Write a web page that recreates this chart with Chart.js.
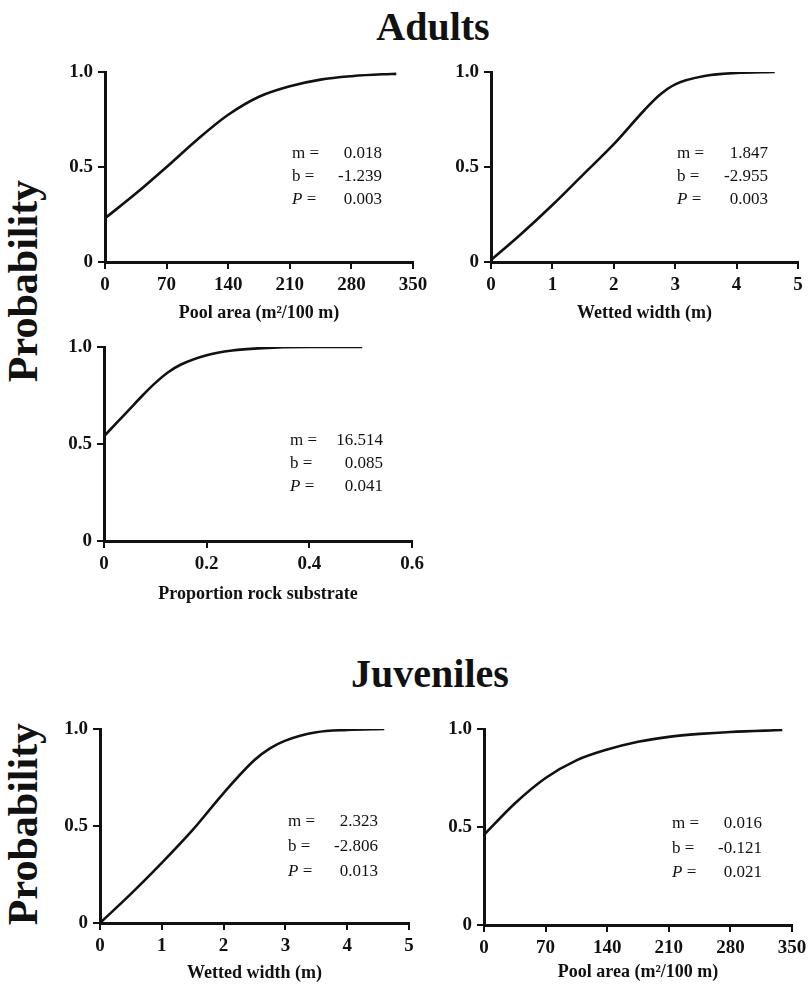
<!DOCTYPE html>
<html>
<head>
<meta charset="utf-8">
<script src="https://cdn.jsdelivr.net/npm/chart.js@4.4.1/dist/chart.umd.min.js"></script>
<style>
  html, body { margin: 0; padding: 0; background: #fff; }
  body { width: 811px; height: 984px; position: relative; overflow: hidden; font-family: 'Liberation Serif', serif; color: #111; }
  .box { position: absolute; }
  .head { position: absolute; font-weight: bold; font-size: 40px; line-height: 40px; width: 300px; text-align: center; }
  .ylab { position: absolute; font-weight: bold; font-size: 42px; line-height: 42px; width: 260px; text-align: center; transform: rotate(-90deg); }
  .stats { position: absolute; font-size: 17px; display: grid; grid-template-columns: auto 1fr; }
  .stats span:nth-child(2n) { text-align: right; }
</style>
</head>
<body>

<div class="head" style="left:283px; top:7px;">Adults</div>
<div class="head" style="left:280px; top:654px;">Juveniles</div>
<div class="ylab" style="left:-107px; top:260px;">Probability</div>
<div class="ylab" style="left:-107px; top:803px;">Probability</div>

<script>
// 1. DATA
const probTicks = [0, 0.5, 1];
const probTickLabels = ['0', '0.5', '1.0'];
const poolTicks = [0, 70, 140, 210, 280, 350];
const widthTicks = [0, 1, 2, 3, 4, 5];
const rockTicks = [0, 0.2, 0.4, 0.6];
const rockTickLabels = ['0', '0.2', '0.4', '0.6'];

// adults
const adultPoolX = [0, 35, 70, 105, 140, 175, 210, 245, 280, 315, 331];
const adultPoolP = [0.23, 0.36, 0.50, 0.645, 0.775, 0.87, 0.925, 0.96, 0.978, 0.988, 0.99];
const adultWidthX = [0, 0.5, 1, 1.5, 2, 2.5, 2.75, 3, 3.5, 4, 4.62];
const adultWidthP = [0.01, 0.15, 0.30, 0.46, 0.62, 0.80, 0.88, 0.935, 0.98, 0.995, 1.0];
const adultRockX = [0, 0.025, 0.05, 0.075, 0.1, 0.125, 0.15, 0.2, 0.25, 0.3, 0.4, 0.503];
const adultRockP = [0.54, 0.61, 0.68, 0.75, 0.815, 0.87, 0.91, 0.958, 0.982, 0.993, 1.0, 1.0];

// juveniles
const juvWidthX = [0, 0.5, 1, 1.5, 2, 2.5, 2.75, 3, 3.5, 4, 4.6];
const juvWidthP = [0.0, 0.15, 0.31, 0.48, 0.67, 0.84, 0.90, 0.94, 0.983, 0.995, 1.0];
const juvPoolX = [0, 35, 70, 105, 140, 175, 210, 245, 280, 339];
const juvPoolP = [0.46, 0.62, 0.75, 0.84, 0.895, 0.935, 0.96, 0.975, 0.985, 0.995];

// fit statistics printed in each panel
const statLabels = ['m =', 'b =', '<i>P</i> ='];
const adultPoolStats = ['0.018', '-1.239', '0.003'];
const adultWidthStats = ['1.847', '-2.955', '0.003'];
const adultRockStats = ['16.514', '0.085', '0.041'];
const juvWidthStats = ['2.323', '-2.806', '0.013'];
const juvPoolStats = ['0.016', '-0.121', '0.021'];

// 2. PANELS
const YW = 60, XH = 70, PADT = 15, PADR = 25;
const tickFont = { family: 'Liberation Serif', size: 19, weight: 'bold' };

function makePanel(p) {
    const c = document.createElement('canvas');
    const w = p.R - p.L + YW + PADR, h = p.B - p.T + PADT + XH;
    const box = document.createElement('div');
    box.className = 'box';
    box.style.cssText = `left:${p.L - YW}px; top:${p.T - PADT}px; width:${w}px; height:${h}px;`;
    box.appendChild(c);
    document.body.appendChild(box);

    new Chart(c.getContext('2d'), {
        type: 'line',
        data: {
            datasets: [{
                data: p.xs.map((x, i) => ({ x: x, y: p.ys[i] })),
                borderColor: '#111',
                borderWidth: 2.6,
                pointRadius: 0,
                fill: false,
                cubicInterpolationMode: 'monotone'
            }]
        },
        options: {
            responsive: true,
            maintainAspectRatio: false,
            animation: false,
            events: [],
            layout: { padding: { top: PADT, right: PADR, left: 0, bottom: 0 } },
            plugins: { legend: { display: false }, tooltip: { enabled: false } },
            scales: {
                x: {
                    type: 'linear',
                    min: p.xTicks[0],
                    max: p.xTicks[p.xTicks.length - 1],
                    afterBuildTicks: s => { s.ticks = p.xTicks.map(v => ({ value: v })); },
                    afterFit: s => { s.height = XH; s.paddingLeft = 0; s.paddingRight = 0; },
                    border: { display: true, color: '#111', width: 3 },
                    grid: { drawOnChartArea: false, drawTicks: true, tickLength: 7, color: '#111', lineWidth: 2 },
                    ticks: {
                        color: '#111', font: tickFont, padding: 5, maxRotation: 0, autoSkip: false,
                        callback: (v, i) => p.xLabels[i]
                    },
                    title: {
                        display: true, text: p.xTitle, color: '#111',
                        font: { family: 'Liberation Serif', size: 18, weight: 'bold' },
                        padding: { top: 0, bottom: p.titlePad }
                    }
                },
                y: {
                    min: 0, max: 1,
                    afterBuildTicks: s => { s.ticks = probTicks.map(v => ({ value: v })); },
                    afterFit: s => { s.width = YW; s.paddingTop = 0; s.paddingBottom = 0; },
                    border: { display: true, color: '#111', width: 3 },
                    grid: { drawOnChartArea: false, drawTicks: true, tickLength: 7, color: '#111', lineWidth: 2 },
                    ticks: {
                        color: '#111', font: tickFont, padding: 5,
                        callback: (v, i) => probTickLabels[i]
                    }
                }
            }
        }
    });

    const st = document.createElement('div');
    st.className = 'stats';
    st.style.cssText = `left:${p.sx}px; top:${p.sy}px; width:${p.sw}px; line-height:${p.lh}px;`;
    st.innerHTML = statLabels.map((l, i) => `<span>${l}</span><span>${p.stats[i]}</span>`).join('');
    document.body.appendChild(st);
}

const poolLabels = poolTicks.map(String);
const widthLabels = widthTicks.map(String);

makePanel({ L: 105, R: 413, T: 72, B: 262, xs: adultPoolX, ys: adultPoolP, xTicks: poolTicks, xLabels: poolLabels,
    xTitle: 'Pool area (m²/100 m)', titlePad: 8, stats: adultPoolStats, sx: 292, sy: 141, sw: 90, lh: 23 });
makePanel({ L: 491, R: 798, T: 72, B: 262, xs: adultWidthX, ys: adultWidthP, xTicks: widthTicks, xLabels: widthLabels,
    xTitle: 'Wetted width (m)', titlePad: 8, stats: adultWidthStats, sx: 677, sy: 141, sw: 91, lh: 23 });
makePanel({ L: 104, R: 412, T: 347, B: 541, xs: adultRockX, ys: adultRockP, xTicks: rockTicks, xLabels: rockTickLabels,
    xTitle: 'Proportion rock substrate', titlePad: 6, stats: adultRockStats, sx: 290, sy: 428, sw: 93, lh: 23 });
makePanel({ L: 100, R: 409, T: 729, B: 923, xs: juvWidthX, ys: juvWidthP, xTicks: widthTicks, xLabels: widthLabels,
    xTitle: 'Wetted width (m)', titlePad: 9, stats: juvWidthStats, sx: 288, sy: 808, sw: 90, lh: 25 });
makePanel({ L: 484, R: 792, T: 729, B: 925, xs: juvPoolX, ys: juvPoolP, xTicks: poolTicks, xLabels: poolLabels,
    xTitle: 'Pool area (m²/100 m)', titlePad: 12, stats: juvPoolStats, sx: 672, sy: 811, sw: 90, lh: 24.5 });
</script>
</body>
</html>
